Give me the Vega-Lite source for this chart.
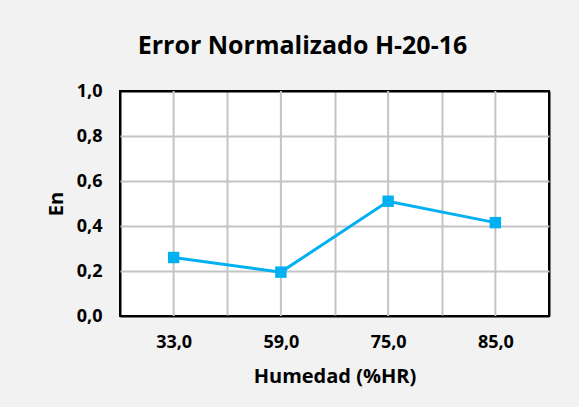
{
  "$schema": "https://vega.github.io/schema/vega-lite/v6.json",
  "width": 429,
  "height": 225,
  "autosize": {"type": "none"},
  "padding": {"left": 120, "top": 91, "right": 30, "bottom": 91},
  "background": "#f2f2f2",
  "title": {
    "text": "Error Normalizado H-20-16",
    "font": "Open Sans",
    "fontSize": 25,
    "fontWeight": "bold",
    "color": "#000000",
    "offset": 23,
    "dx": -32
  },
  "data": {
    "values": [
      {"hum": "33,0", "en": 0.26},
      {"hum": "59,0", "en": 0.195},
      {"hum": "75,0", "en": 0.51},
      {"hum": "85,0", "en": 0.415}
    ]
  },
  "encoding": {
    "x": {
      "field": "hum",
      "type": "ordinal",
      "sort": null,
      "scale": {"paddingInner": 0, "paddingOuter": 0},
      "axis": {
        "title": "Humedad (%HR)",
        "tickBand": "extent",
        "labelAngle": 0,
        "labelPadding": 17,
        "titlePadding": 15,
        "gridColor": {"condition": {"test": "datum.extra || datum.value === '85,0'", "value": "#000000"}, "value": "#c4c4c4"}
      }
    }
  },
  "layer": [
    {
      "mark": {"type": "rule", "color": "#c4c4c4", "strokeWidth": 2},
      "encoding": {}
    },
    {
      "mark": {"type": "line", "color": "#00b0f0", "strokeWidth": 3},
      "encoding": {
        "y": {
          "field": "en",
          "type": "quantitative",
          "scale": {"domain": [0, 1]},
          "axis": {
            "title": "En",
            "values": [0, 0.2, 0.4, 0.6, 0.8, 1],
            "labelExpr": "replace(format(datum.value, '.1f'), '.', ',')",
            "labelPadding": 18,
            "titlePadding": 10,
            "gridColor": {"condition": {"test": "datum.value === 0 || datum.value === 1", "value": "#000000"}, "value": "#c4c4c4"}
          }
        }
      }
    },
    {
      "mark": {"type": "point", "shape": "square", "filled": true, "size": 130, "color": "#00b0f0", "opacity": 1},
      "encoding": {
        "y": {"field": "en", "type": "quantitative"}
      }
    }
  ],
  "config": {
    "view": {"stroke": "#000000", "strokeWidth": 2, "fill": "#ffffff"},
    "axis": {
      "grid": true,
      "gridWidth": 2,
      "gridOpacity": 1,
      "ticks": false,
      "domain": false,
      "labelFont": "Open Sans",
      "labelFontSize": 18,
      "labelFontWeight": "bold",
      "labelColor": "#000000",
      "titleFont": "Open Sans",
      "titleFontSize": 20,
      "titleFontWeight": "bold",
      "titleColor": "#000000"
    }
  }
}
